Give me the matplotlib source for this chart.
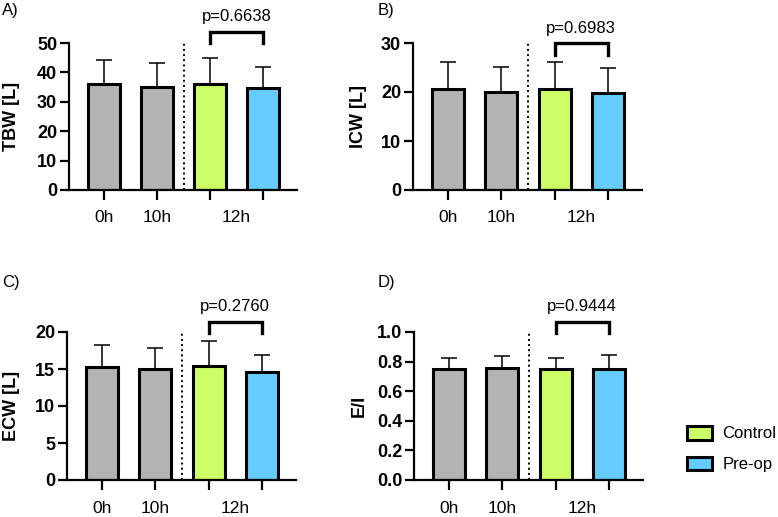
import numpy as np
import matplotlib.pyplot as plt
from matplotlib.patches import Patch
import matplotlib.transforms as mtransforms

plt.rcParams['font.family'] = ['Liberation Sans', 'DejaVu Sans']

# bar order: 0h, 10h, 12h Control, 12h Pre-op
tbw_mean = [36.1, 35.2, 36.0, 34.7]
tbw_sd = [8.2, 8.0, 8.8, 7.1]
icw_mean = [20.6, 20.1, 20.6, 19.8]
icw_sd = [5.5, 4.9, 5.5, 5.0]
ecw_mean = [15.3, 15.0, 15.35, 14.6]
ecw_sd = [3.0, 2.8, 3.45, 2.3]
ei_mean = [0.747, 0.754, 0.747, 0.747]
ei_sd = [0.075, 0.083, 0.075, 0.095]

p_values = ['p=0.6638', 'p=0.6983', 'p=0.2760', 'p=0.9444']
ylabels = ['TBW [L]', 'ICW [L]', 'ECW [L]', 'E/I']
panel_letters = ['A)', 'B)', 'C)', 'D)']
ylims = [50, 30, 20, 1.0]
yticks = [np.arange(0, 51, 10), np.arange(0, 31, 10), np.arange(0, 21, 5), np.arange(0, 1.01, 0.2)]
tick_fmt = ['{:.0f}', '{:.0f}', '{:.0f}', '{:.1f}']
xlabels = ['0h', '10h', '12h']
legend_labels = ['Control', 'Pre-op']

bar_colors = ['#b3b3b3', '#b3b3b3', '#ccff66', '#66ccff']

means = [tbw_mean, icw_mean, ecw_mean, ei_mean]
sds = [tbw_sd, icw_sd, ecw_sd, ei_sd]

# bracket height / leg bottom / p text (axes fraction)
bracket = [(1.075, 1.0, 1.177), (1.0, 0.918, 1.10), (1.07, 0.99, 1.17), (1.066, 0.99, 1.17)]

axes_rect = [
    [69 / 778, 1 - 190 / 517, 228 / 778, 147 / 517],
    [413 / 778, 1 - 190 / 517, 229 / 778, 147 / 517],
    [67 / 778, 1 - 480 / 517, 229 / 778, 148 / 517],
    [414 / 778, 1 - 480 / 517, 229 / 778, 148 / 517],
]
letter_pos = [(2, 10), (378, 10), (2, 282), (378, 282)]
ylabel_x = [-0.215, -0.2, -0.205, -0.2]

fig = plt.figure(figsize=(7.78, 5.17), dpi=100)

x = np.arange(4)
for i in range(4):
    ax = fig.add_axes(axes_rect[i])
    ax.errorbar(x, means[i], yerr=[np.zeros(4), sds[i]], fmt='none', ecolor='black',
                elinewidth=1.1, capsize=6, capthick=1.1, zorder=1)
    ax.bar(x, means[i], width=0.6, color=bar_colors, edgecolor='black', linewidth=2.2, zorder=2)
    ax.set_xlim(-0.66, 3.64)
    ax.set_ylim(0, ylims[i])
    ax.set_yticks(yticks[i])
    ax.set_yticklabels([tick_fmt[i].format(v) for v in yticks[i]], fontsize=13, fontweight='bold')
    ax.set_xticks(x)
    ax.set_xticklabels([])
    for s in ['top', 'right']:
        ax.spines[s].set_visible(False)
    for s in ['left', 'bottom']:
        ax.spines[s].set_linewidth(1.6)
    ax.tick_params(axis='y', length=6.5, width=1.6, pad=2)
    ax.tick_params(axis='x', length=7, width=1.6)
    ax.set_ylabel(ylabels[i], fontsize=13, fontweight='bold')
    ax.yaxis.set_label_coords(ylabel_x[i], 0.5)

    trans = mtransforms.blended_transform_factory(ax.transData, ax.transAxes)
    for xl, xp in zip(xlabels, [0, 1, 2.5]):
        ax.text(xp, -0.19, xl, transform=trans, ha='center', va='center', fontsize=12.5)

    ax.plot([1.5, 1.5], [0, 1], transform=trans, color='black', linestyle=':', linewidth=1.4)

    yb, yl, yp = bracket[i]
    ax.plot([2, 2, 3, 3], [yl, yb, yb, yl], transform=trans, color='black',
            linewidth=2.4, clip_on=False, solid_joinstyle='miter')
    ax.text(2.5, yp, p_values[i], transform=trans, ha='center', va='center', fontsize=12)

    lx, ly = letter_pos[i]
    fig.text(lx / 778, 1 - ly / 517, panel_letters[i], ha='left', va='center', fontsize=12)

handles = [Patch(facecolor=c, edgecolor='black', linewidth=2.2) for c in bar_colors[2:]]
fig.legend(handles, legend_labels, loc='center left', bbox_to_anchor=(680 / 778, 1 - 449 / 517),
           borderaxespad=0, frameon=False, fontsize=12, handlelength=1.5, handleheight=0.9,
           labelspacing=0.9, handletextpad=0.65)

fig.savefig('out.png', dpi=100)
